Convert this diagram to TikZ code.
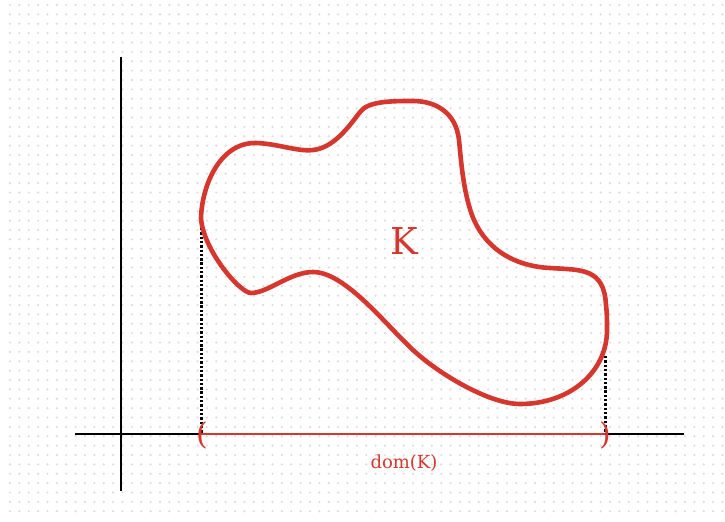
\documentclass[tikz,border=0pt]{standalone}
\usepackage{fontspec}
\setmainfont{DejaVu Serif}
\definecolor{Rojo}{HTML}{D5372E}
\definecolor{Punto}{HTML}{DCDCDC}

\begin{document}
\begin{tikzpicture}[x=0.5pt,y=-0.5pt,
        eje/.style={line width=1.15pt,draw=black},
        punteada/.style={line width=1.5pt,dash pattern=on 1.2pt off 0.95pt,draw=black},
        contorno/.style={line width=2.3pt,draw=Rojo,line join=round},
        intervalo/.style={line width=1pt,draw=Rojo},
        etiqueta/.style={text=Rojo,inner sep=0pt}]
        \useasboundingbox[fill=white] (0,0) rectangle (725,521);
        \foreach \i in {0,...,76}
          \foreach \j in {0,...,54}
            \fill[Punto] (10+\i*9.375,5+\j*9.375) circle[radius=0.6pt];
        \coordinate (ejeyA) at (121,57);
        \coordinate (ejeyB) at (121,491);
        \coordinate (ejexA) at (75,434);
        \coordinate (ejexB) at (684,434);
        \draw[eje] (ejeyA) -- (ejeyB);
        \draw[eje] (ejexA) -- (ejexB);
        \coordinate (a) at (201,434);
        \coordinate (b) at (605,434);
        \coordinate (topeA) at (201,228);
        \coordinate (topeB) at (605,356);
        \draw[punteada] (topeA) -- (a);
        \draw[punteada] (topeB) -- (b);
        \draw[intervalo] (a) -- (b);
        \node[etiqueta,font=\fontsize{15}{17}\selectfont] (izq) at (202,435) {(};
        \node[etiqueta,font=\fontsize{15}{17}\selectfont] (der) at (605,435) {)};
        % contorno de K
        \draw[contorno] (201,218)
          .. controls (202,185) and (220,143) .. (255,143)
          .. controls (275,143) and (298,152) .. (313,150)
          .. controls (333,148) and (348,128) .. (360,112)
          .. controls (368,101) and (392,101) .. (413,101)
          .. controls (435,101) and (456,112) .. (459,140)
          .. controls (461,160) and (463,190) .. (472,215)
          .. controls (483,245) and (510,266) .. (550,268)
          .. controls (582,270) and (604,268) .. (606,305)
          .. controls (607,313) and (607,320) .. (607,330)
          .. controls (607,372) and (570,404) .. (520,404)
          .. controls (490,404) and (440,375) .. (413,350)
          .. controls (385,324) and (345,272) .. (313,272)
          .. controls (290,272) and (268,293) .. (251,293)
          .. controls (240,293) and (203,250) .. cycle;
        \node[etiqueta,font=\fontsize{18.5}{22}\selectfont] (conjK) at (404,241) {K};
        \node[etiqueta,font=\fontsize{9}{11}\selectfont] (dom) at (404,463) {dom(K)};
      \end{tikzpicture}
\end{document}
